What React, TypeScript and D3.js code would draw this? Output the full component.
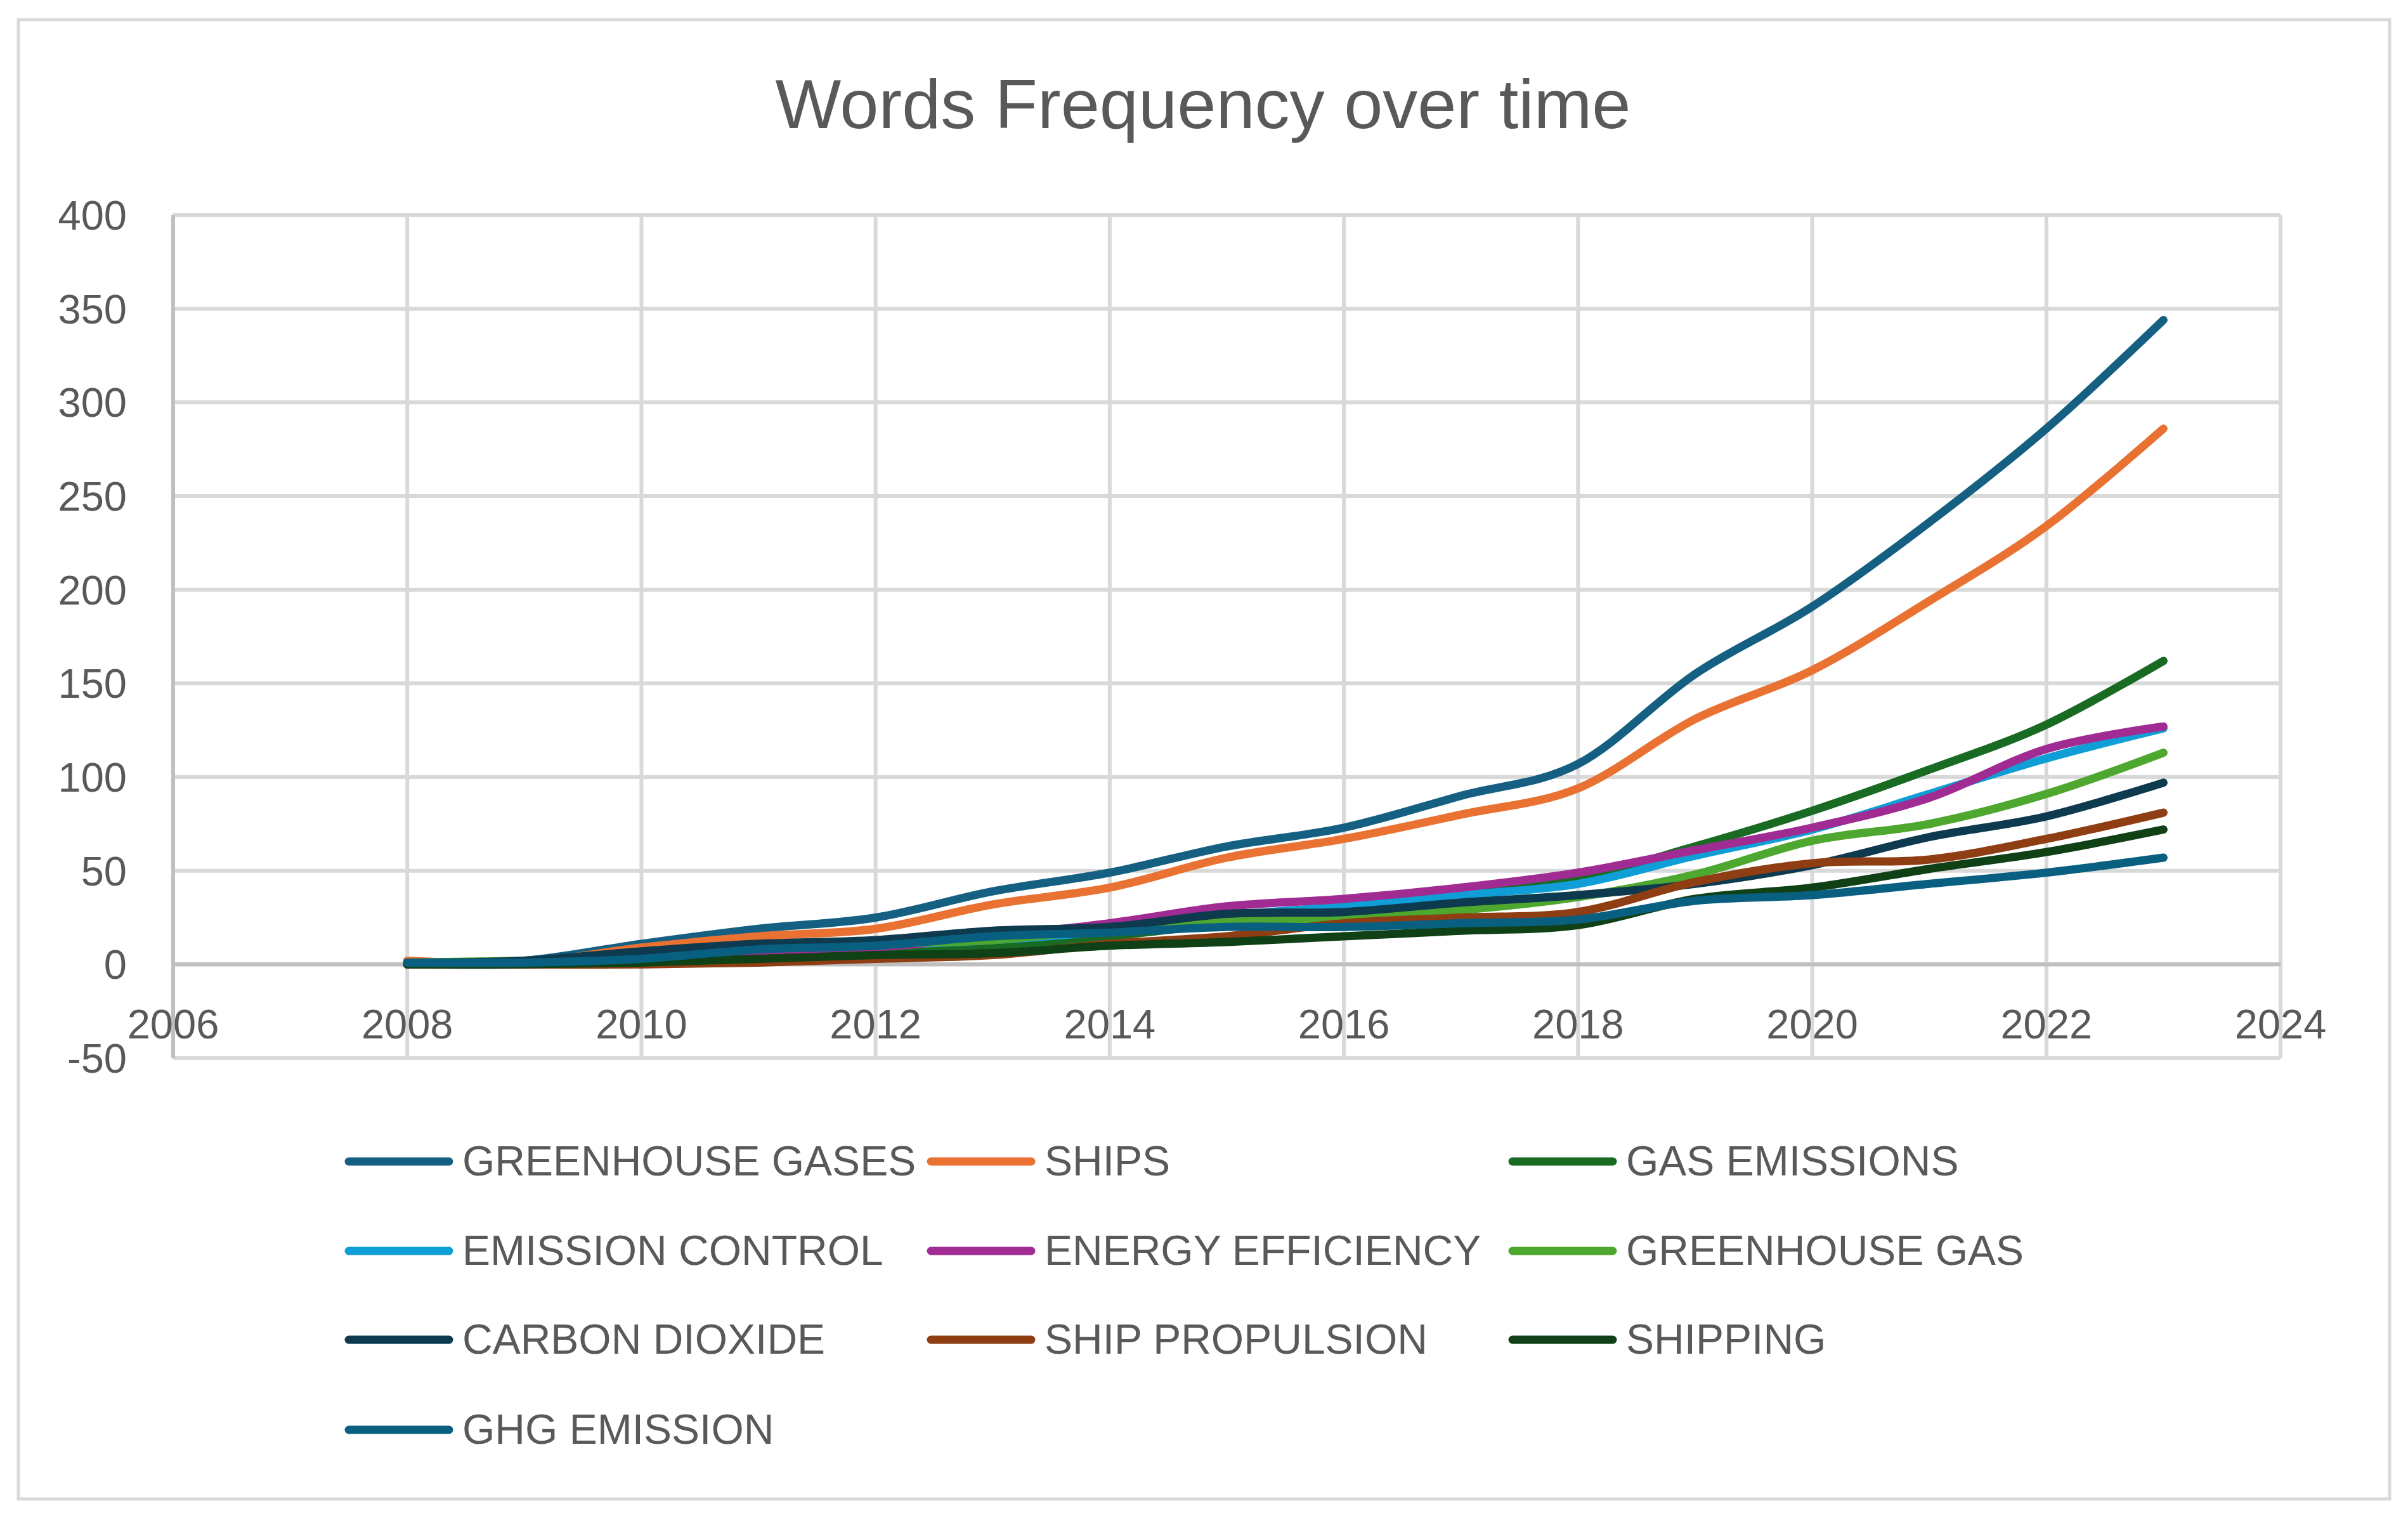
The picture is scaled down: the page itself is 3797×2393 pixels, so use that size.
import * as d3 from "d3";

const WIDTH = 3797;
const HEIGHT = 2393;
const PLOT = { left: 273, right: 3596, top: 339, bottom: 1668 };
const TEXT = "#595959";
const GRID = "#d9d9d9";
const AXIS = "#bfbfbf";
const FONT = "'Liberation Sans', Arial, sans-serif";

const YEARS = [2008, 2009, 2010, 2011, 2012, 2013, 2014, 2015, 2016, 2017, 2018, 2019, 2020, 2021, 2022, 2023];
const X_TICKS = [2006, 2008, 2010, 2012, 2014, 2016, 2018, 2020, 2022, 2024];
const Y_TICKS = [-50, 0, 50, 100, 150, 200, 250, 300, 350, 400];

const SERIES_NAMES = [
  "GREENHOUSE GASES",
  "SHIPS",
  "GAS EMISSIONS",
  "EMISSION CONTROL",
  "ENERGY EFFICIENCY",
  "GREENHOUSE GAS",
  "CARBON DIOXIDE",
  "SHIP PROPULSION",
  "SHIPPING",
  "GHG EMISSION",
];
const SERIES_COLORS = [
  "#156082",
  "#e97132",
  "#196b24",
  "#0f9ed5",
  "#a02b93",
  "#4ea72e",
  "#0d3a4e",
  "#8f3d12",
  "#0f4016",
  "#095f80",
];

const GREENHOUSE_GASES = [1, 2, 11, 19, 25, 39, 49, 63, 73, 90, 107, 155, 191, 236, 286, 344];
const SHIPS = [2, 1, 9, 15, 19, 32, 41, 57, 67, 80, 94, 131, 157, 194, 234, 286];
const GAS_EMISSIONS = [0, 1, 4, 6, 8, 10, 15, 22, 28, 38, 46, 63, 82, 104, 128, 162];
const EMISSION_CONTROL = [1, 1, 3, 7, 10, 13, 18, 26, 31, 37, 43, 58, 72, 91, 110, 126];
const ENERGY_EFFICIENCY = [0, 0, 2, 5, 9, 15, 22, 31, 35, 41, 49, 61, 73, 89, 115, 127];
const GREENHOUSE_GAS = [1, 2, 4, 9, 11, 13, 19, 23, 25, 29, 36, 48, 66, 75, 91, 113];
const CARBON_DIOXIDE = [1, 2, 7, 11, 13, 18, 20, 27, 28, 33, 37, 43, 53, 68, 79, 97];
const SHIP_PROPULSION = [0, 0, 0, 1, 3, 5, 11, 15, 22, 25, 28, 44, 54, 56, 67, 81];
const SHIPPING = [0, 0, 1, 3, 5, 6, 10, 12, 15, 18, 21, 35, 41, 51, 60, 72];
const GHG_EMISSION = [1, 1, 3, 8, 10, 15, 17, 20, 20, 22, 24, 34, 37, 43, 49, 57];

const SERIES_VALUES = [
  GREENHOUSE_GASES,
  SHIPS,
  GAS_EMISSIONS,
  EMISSION_CONTROL,
  ENERGY_EFFICIENCY,
  GREENHOUSE_GAS,
  CARBON_DIOXIDE,
  SHIP_PROPULSION,
  SHIPPING,
  GHG_EMISSION,
];

const x = d3.scaleLinear().domain([2006, 2024]).range([PLOT.left, PLOT.right]);
const y = d3.scaleLinear().domain([-50, 400]).range([PLOT.bottom, PLOT.top]);

const line = d3
  .line<[number, number]>()
  .x((d) => x(d[0]))
  .y((d) => y(d[1]))
  .curve(d3.curveCatmullRom.alpha(0));

// legend grid: 3 columns, rows top to bottom
const LEGEND_COL_X = [543, 1461, 2378];
const LEGEND_ROW_Y = [1831, 1972, 2112, 2254];

export default function App() {
  return (
    <svg
      width={WIDTH}
      height={HEIGHT}
      style={{ position: "absolute", left: 0, top: 0, background: "#fff" }}
      fontFamily={FONT}
    >
      <rect x={0} y={0} width={WIDTH} height={HEIGHT} fill="#fff" />
      <rect x={29} y={31} width={3739} height={2332} fill="#fff" stroke={GRID} strokeWidth={5} />

      <text x={1897} y={202} textAnchor="middle" fontSize={110} fill={TEXT}>
        Words Frequency over time
      </text>

      {Y_TICKS.map((t) => (
        <line
          key={`h${t}`}
          x1={PLOT.left}
          x2={PLOT.right}
          y1={y(t)}
          y2={y(t)}
          stroke={t === 0 ? AXIS : GRID}
          strokeWidth={6}
        />
      ))}
      {X_TICKS.map((t) => (
        <line
          key={`v${t}`}
          x1={x(t)}
          x2={x(t)}
          y1={PLOT.top}
          y2={PLOT.bottom}
          stroke={t === 2006 ? AXIS : GRID}
          strokeWidth={6}
        />
      ))}
      <line x1={PLOT.left} x2={PLOT.right} y1={y(0)} y2={y(0)} stroke={AXIS} strokeWidth={6} />

      {Y_TICKS.map((t) => (
        <text key={`yl${t}`} x={200} y={y(t) + 23} textAnchor="end" fontSize={65} fill={TEXT}>
          {t}
        </text>
      ))}
      {X_TICKS.map((t) => (
        <text key={`xl${t}`} x={x(t)} y={y(0) + 117} textAnchor="middle" fontSize={65} fill={TEXT}>
          {t}
        </text>
      ))}

      {SERIES_VALUES.map((vals, i) => (
        <path
          key={SERIES_NAMES[i]}
          d={line(YEARS.map((yr, j) => [yr, vals[j]] as [number, number])) ?? ""}
          fill="none"
          stroke={SERIES_COLORS[i]}
          strokeWidth={13}
          strokeLinecap="round"
          strokeLinejoin="round"
        />
      ))}

      {SERIES_NAMES.map((name, i) => {
        const lx = LEGEND_COL_X[i % 3];
        const ly = LEGEND_ROW_Y[Math.floor(i / 3)];
        return (
          <g key={`lg${name}`}>
            <line
              x1={lx + 7}
              x2={lx + 165}
              y1={ly}
              y2={ly}
              stroke={SERIES_COLORS[i]}
              strokeWidth={13}
              strokeLinecap="round"
            />
            <text x={lx + 186} y={ly + 22} fontSize={66} fill={TEXT}>
              {name}
            </text>
          </g>
        );
      })}
    </svg>
  );
}
